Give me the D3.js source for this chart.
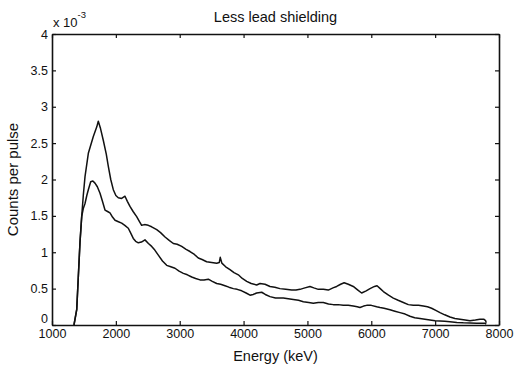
<!DOCTYPE html>
<html>
<head>
<meta charset="utf-8">
<script src="https://cdn.jsdelivr.net/npm/d3@7"></script>
<style>
  html, body { margin: 0; padding: 0; background: #fff; }
  svg { display: block; }
  text { font-family: "Liberation Sans", Arial, Helvetica, sans-serif; fill: #111; }
</style>
</head>
<body>
<svg id="chart" width="514" height="366"></svg>
<script>
// Spectrum with less lead shielding; counts are in units of 1e-3.
const upperEnergy = [1344, 1387, 1412, 1438, 1465, 1490, 1517, 1569, 1647, 1700, 1725, 1760, 1803, 1850, 1882, 1920, 1960, 2000, 2038, 2091, 2143, 2180, 2221, 2270, 2326, 2370, 2404, 2450, 2508, 2560, 2640, 2700, 2770, 2840, 2900, 2960, 3031, 3100, 3161, 3230, 3291, 3350, 3422, 3500, 3579, 3620, 3635, 3660, 3720, 3787, 3850, 3918, 3980, 4049, 4120, 4205, 4257, 4336, 4414, 4490, 4570, 4660, 4753, 4820, 4884, 4960, 5040, 5100, 5170, 5250, 5327, 5400, 5458, 5520, 5575, 5640, 5718, 5790, 5849, 5920, 5980, 6050, 6090, 6140, 6189, 6270, 6345, 6420, 6502, 6580, 6658, 6740, 6815, 6880, 6945, 7010, 7076, 7150, 7232, 7310, 7389, 7470, 7545, 7630, 7702, 7760, 7790, 7800];
const upperCounts = [0, 0.21, 0.66, 1.13, 1.49, 1.78, 2.04, 2.36, 2.59, 2.72, 2.80, 2.70, 2.54, 2.35, 2.18, 2.00, 1.86, 1.78, 1.75, 1.74, 1.77, 1.70, 1.63, 1.56, 1.49, 1.42, 1.37, 1.38, 1.37, 1.35, 1.31, 1.27, 1.21, 1.16, 1.12, 1.11, 1.08, 1.04, 1.01, 0.97, 0.92, 0.90, 0.87, 0.86, 0.85, 0.86, 0.93, 0.85, 0.80, 0.76, 0.72, 0.69, 0.64, 0.60, 0.57, 0.55, 0.57, 0.56, 0.53, 0.52, 0.50, 0.49, 0.48, 0.48, 0.49, 0.51, 0.53, 0.51, 0.49, 0.49, 0.48, 0.51, 0.53, 0.56, 0.58, 0.56, 0.53, 0.48, 0.44, 0.47, 0.50, 0.53, 0.54, 0.50, 0.46, 0.41, 0.37, 0.34, 0.31, 0.28, 0.27, 0.27, 0.26, 0.25, 0.23, 0.20, 0.17, 0.14, 0.11, 0.09, 0.08, 0.07, 0.06, 0.07, 0.08, 0.08, 0.06, 0.03];

const lowerEnergy = [1344, 1387, 1412, 1438, 1465, 1490, 1517, 1545, 1569, 1606, 1640, 1673, 1710, 1752, 1790, 1830, 1870, 1908, 1950, 1987, 2040, 2091, 2140, 2195, 2235, 2273, 2310, 2352, 2400, 2456, 2510, 2561, 2610, 2665, 2730, 2796, 2860, 2926, 2990, 3057, 3120, 3188, 3250, 3318, 3380, 3448, 3510, 3579, 3640, 3709, 3770, 3840, 3900, 3971, 4040, 4101, 4150, 4205, 4284, 4340, 4414, 4500, 4622, 4700, 4779, 4860, 4936, 5020, 5092, 5170, 5249, 5330, 5405, 5480, 5562, 5640, 5718, 5780, 5823, 5880, 5927, 6000, 6085, 6137, 6200, 6293, 6370, 6450, 6530, 6606, 6680, 6763, 6840, 6919, 7000, 7076, 7150, 7232, 7340, 7441, 7550, 7650, 7720, 7780, 7800];
const lowerCounts = [0, 0.21, 0.66, 1.13, 1.49, 1.60, 1.67, 1.78, 1.86, 1.97, 1.98, 1.95, 1.90, 1.81, 1.70, 1.58, 1.56, 1.54, 1.48, 1.44, 1.42, 1.40, 1.37, 1.33, 1.26, 1.19, 1.15, 1.13, 1.14, 1.17, 1.12, 1.08, 1.03, 0.96, 0.88, 0.82, 0.80, 0.78, 0.74, 0.71, 0.69, 0.66, 0.64, 0.62, 0.62, 0.63, 0.60, 0.57, 0.56, 0.54, 0.52, 0.50, 0.49, 0.47, 0.44, 0.41, 0.42, 0.44, 0.45, 0.42, 0.39, 0.37, 0.37, 0.36, 0.35, 0.34, 0.32, 0.31, 0.30, 0.31, 0.31, 0.29, 0.28, 0.28, 0.27, 0.27, 0.26, 0.25, 0.24, 0.26, 0.27, 0.27, 0.25, 0.24, 0.23, 0.21, 0.19, 0.17, 0.15, 0.12, 0.10, 0.09, 0.08, 0.07, 0.06, 0.055, 0.05, 0.045, 0.035, 0.03, 0.027, 0.025, 0.025, 0.025, 0.01];

const xTicks = [1000, 2000, 3000, 4000, 5000, 6000, 7000, 8000];
const yTicks = [0, 0.5, 1, 1.5, 2, 2.5, 3, 3.5, 4];
const yTickLabels = ["0", "0.5", "1", "1.5", "2", "2.5", "3", "3.5", "4"];

const titleText = "Less lead shielding";
const xLabelText = "Energy (keV)";
const yLabelText = "Counts per pulse";

const margin = { left: 52, right: 15, top: 34, bottom: 41 };
const W = 514, H = 366;
const svg = d3.select("#chart");

const x = d3.scaleLinear().domain([1000, 8000]).range([margin.left, W - margin.right]);
const y = d3.scaleLinear().domain([0, 4]).range([H - margin.bottom, margin.top]);

const ink = "#111";
const fontSize = 12.5;
const labelSize = 14.5;

// Bottom axis with inward ticks
const gx = svg.append("g")
  .attr("transform", `translate(0,${y(0)})`)
  .call(d3.axisBottom(x).tickValues(xTicks).tickFormat(d3.format("d"))
    .tickSizeInner(-4).tickSizeOuter(0).tickPadding(4));
// Top axis, ticks only
const gxTop = svg.append("g")
  .attr("transform", `translate(0,${y(4)})`)
  .call(d3.axisTop(x).tickValues(xTicks).tickFormat("")
    .tickSizeInner(-4).tickSizeOuter(0));
// Left axis
const gy = svg.append("g")
  .attr("transform", `translate(${x(1000)},0)`)
  .call(d3.axisLeft(y).tickValues(yTicks).tickFormat((d, i) => yTickLabels[i])
    .tickSizeInner(-4).tickSizeOuter(0).tickPadding(4));
// Right axis, ticks only
const gyRight = svg.append("g")
  .attr("transform", `translate(${x(8000)},0)`)
  .call(d3.axisRight(y).tickValues(yTicks).tickFormat("")
    .tickSizeInner(-4).tickSizeOuter(0));

[gx, gxTop, gy, gyRight].forEach(g => {
  g.select(".domain").attr("stroke", ink).attr("stroke-width", 1.6);
  g.selectAll(".tick line").attr("stroke", ink).attr("stroke-width", 1.2);
  g.selectAll(".tick text").attr("font-size", fontSize)
    .attr("font-family", "Liberation Sans, Arial, sans-serif").attr("fill", ink);
});
// Lift the zero label so it clears the first energy label
gy.selectAll(".tick").filter(d => d === 0).select("text").attr("dy", "-0.2em");

// Curves
const line = d3.line().x(d => x(d[0])).y(d => y(d[1]));
const upper = upperEnergy.map((e, i) => [e, upperCounts[i]]);
const lower = lowerEnergy.map((e, i) => [e, lowerCounts[i]]);

svg.append("path").datum(lower).attr("d", line)
  .attr("fill", "none").attr("stroke", ink).attr("stroke-width", 1.5).attr("stroke-linejoin", "round");
svg.append("path").datum(upper).attr("d", line)
  .attr("fill", "none").attr("stroke", ink).attr("stroke-width", 1.5).attr("stroke-linejoin", "round");

// Title
svg.append("text").attr("x", (x(1000) + x(8000)) / 2).attr("y", 22)
  .attr("text-anchor", "middle").attr("font-size", labelSize).text(titleText);

// Exponent marker
const expo = svg.append("text").attr("x", x(1000) + 1).attr("y", 27).attr("font-size", 13);
expo.append("tspan").text("x 10");
expo.append("tspan").attr("dy", -9).attr("font-size", 9.5).text("-3");

// Axis labels
svg.append("text").attr("x", (x(1000) + x(8000)) / 2).attr("y", 361)
  .attr("text-anchor", "middle").attr("font-size", labelSize).text(xLabelText);

svg.append("text")
  .attr("transform", `translate(18,${(y(0) + y(4)) / 2}) rotate(-90)`)
  .attr("text-anchor", "middle").attr("font-size", labelSize + 0.5).text(yLabelText);
</script>
</body>
</html>
